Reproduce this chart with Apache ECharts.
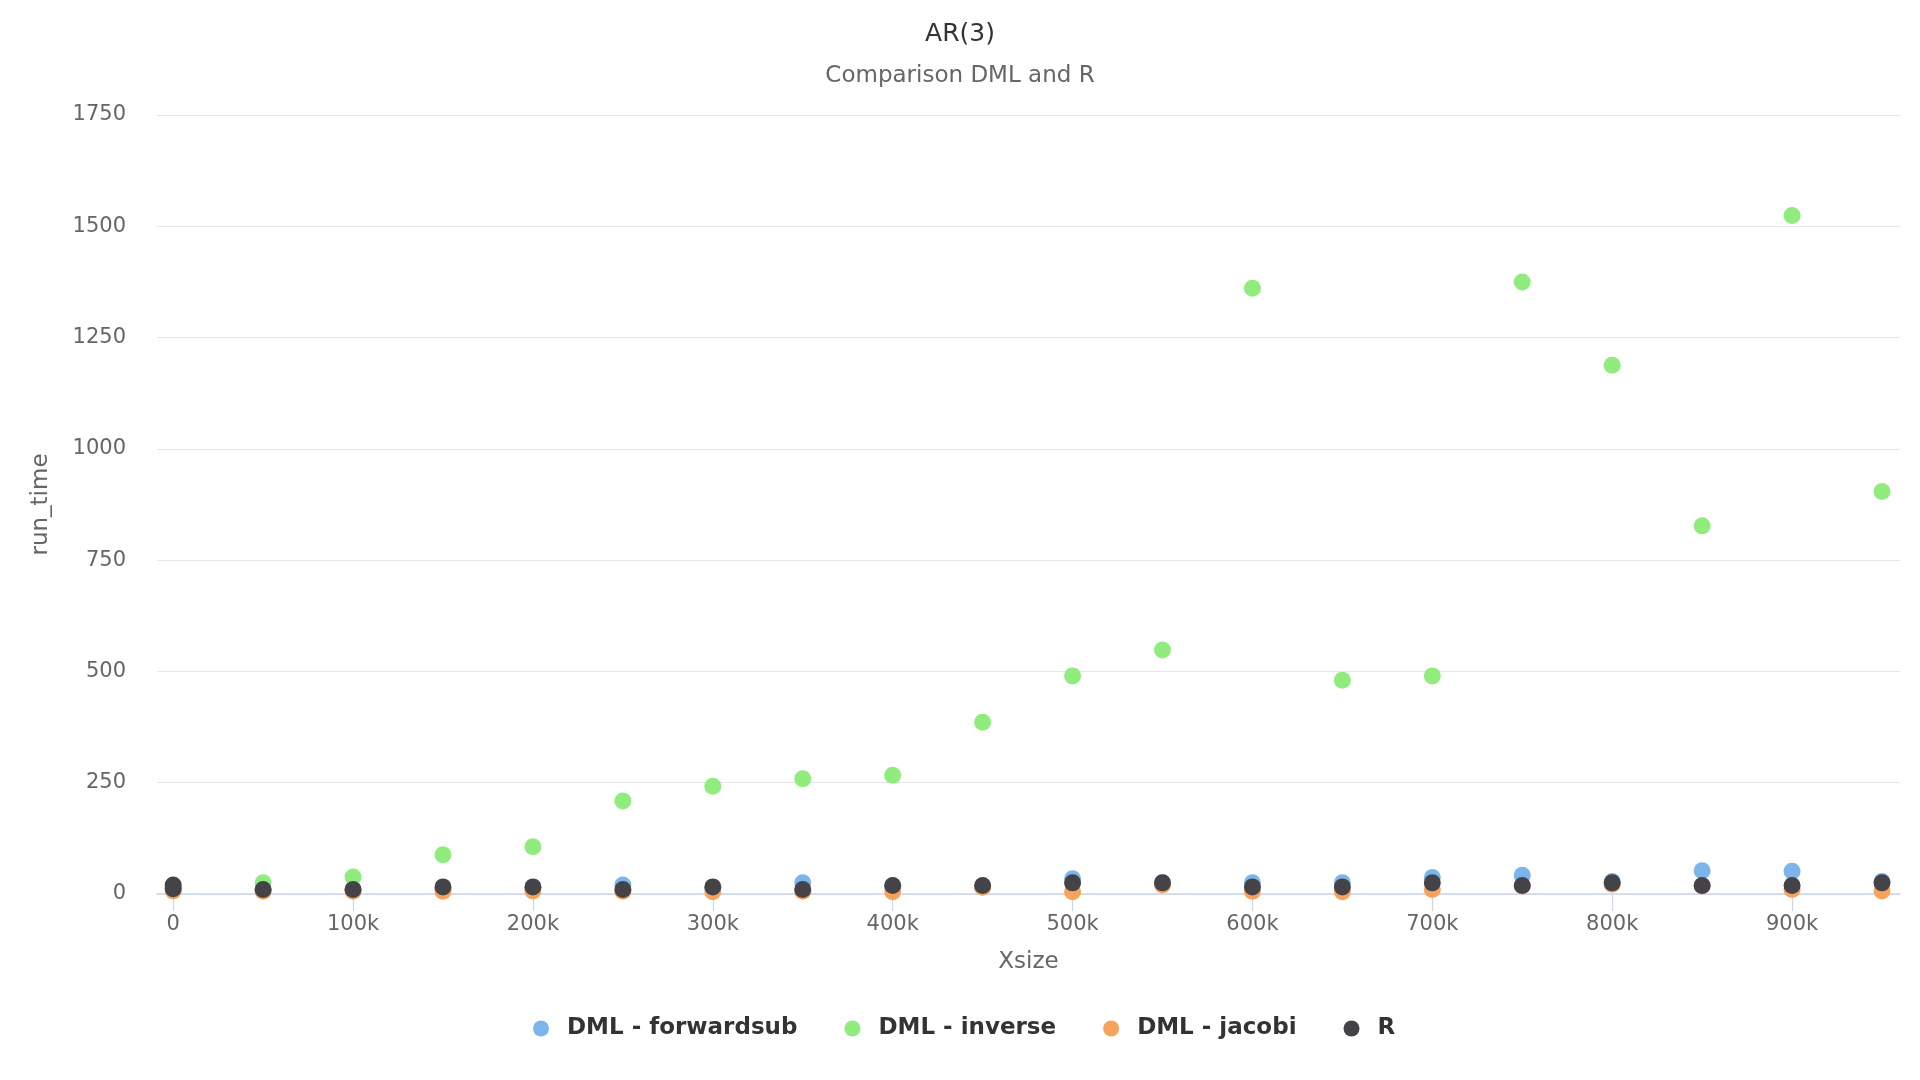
<!DOCTYPE html>
<html>
<head>
<meta charset="utf-8">
<script src="https://cdn.jsdelivr.net/npm/echarts@6/dist/echarts.min.js"></script>
<style>
html,body{margin:0;padding:0;background:#fff;}
#c{width:1920px;height:1080px;}
</style>
</head>
<body>
<div id="c"></div>
<script>
var titleText = 'AR(3)';
var subtitleText = 'Comparison DML and R';
var xName = 'Xsize';
var yName = 'run_time';
var seriesNames = ['DML - forwardsub', 'DML - inverse', 'DML - jacobi', 'R'];
var seriesColors = ['#7cb5ec', '#90ed7d', '#f7a35c', '#434348'];

var xsize = [0, 50000, 100000, 150000, 200000, 250000, 300000, 350000, 400000, 450000,
             500000, 550000, 600000, 650000, 700000, 750000, 800000, 850000, 900000, 950000];
var forwardsub = [15, 10, 10, 12, 14, 20, 14, 25, 17, 16, 34, 25, 25, 25, 37, 42, 28, 52, 51, 28];
var inverse = [12, 25, 38, 88, 106, 209, 242, 259, 267, 386, 490, 548, 1361, 480, 490, 1375, 1188, 827, 1524, 904];
var jacobi = [7, 6, 6, 6, 7, 6, 5, 6, 5, 15, 5, 20, 6, 5, 10, 18, 22, 18, 10, 7];
var rValues = [20, 10, 10, 16, 16, 10, 16, 10, 19, 19, 25, 25, 16, 16, 25, 19, 25, 19, 19, 25];
var rExtraX = [0];
var rExtraY = [12];

var xTicks = [0, 100000, 200000, 300000, 400000, 500000, 600000, 700000, 800000, 900000];
var yTicks = [0, 250, 500, 750, 1000, 1250, 1500, 1750];

function pairs(xs, ys) {
  var out = [];
  for (var i = 0; i < xs.length; i++) out.push([xs[i], ys[i]]);
  return out;
}

var FONT = 'DejaVu Sans';
var chart = echarts.init(document.getElementById('c'));

var seriesData = [
  pairs(xsize, forwardsub),
  pairs(xsize, inverse),
  pairs(xsize, jacobi),
  pairs(rExtraX, rExtraY).concat(pairs(xsize, rValues))
];

var series = seriesNames.map(function (name, i) {
  return {
    name: name,
    type: 'scatter',
    symbol: 'circle',
    symbolSize: 17,
    data: seriesData[i],
    itemStyle: { color: seriesColors[i], opacity: 1 },
    emphasis: { disabled: true },
    z: 2 + i
  };
});

chart.setOption({
  backgroundColor: '#ffffff',
  animation: false,
  textStyle: { fontFamily: FONT },
  title: [
    { text: titleText, left: 'center', top: 14,
      textStyle: { fontFamily: FONT, fontSize: 25, fontWeight: 'normal', color: '#333333', lineHeight: 30 } },
    { text: subtitleText, left: 'center', top: 57,
      textStyle: { fontFamily: FONT, fontSize: 23, fontWeight: 'normal', color: '#666666', lineHeight: 28 } }
  ],
  legend: {
    top: 1012,
    left: 528,
    padding: 5,
    icon: 'circle',
    itemWidth: 16,
    itemHeight: 16,
    itemGap: 47,
    data: seriesNames,
    textStyle: { fontFamily: FONT, fontSize: 23, fontWeight: 'bold', color: '#333333', padding: [0, 0, 0, 13] }
  },
  grid: { left: 157, right: 20, top: 115, bottom: 186, containLabel: false },
  xAxis: {
    type: 'value',
    min: -9000,
    max: 960000,
    name: xName,
    nameLocation: 'middle',
    nameGap: 57,
    nameTextStyle: { fontFamily: FONT, fontSize: 23, color: '#666666' },
    axisLine: { show: true, lineStyle: { color: '#ccd6eb', width: 1.5 } },
    axisTick: { show: true, length: 17, customValues: xTicks, lineStyle: { color: '#ccd6eb', width: 1.2 } },
    axisLabel: {
      customValues: xTicks,
      margin: 20,
      fontFamily: FONT, fontSize: 21, color: '#666666',
      formatter: function (v) { return v === 0 ? '0' : (v / 1000) + 'k'; }
    },
    splitLine: { show: false }
  },
  yAxis: {
    type: 'value',
    min: 0,
    max: 1750,
    interval: 250,
    name: yName,
    nameLocation: 'middle',
    nameGap: 104,
    nameTextStyle: { fontFamily: FONT, fontSize: 23, color: '#666666' },
    axisLine: { show: false },
    axisTick: { show: false },
    axisLabel: { margin: 31, fontFamily: FONT, fontSize: 21, color: '#666666', padding: [3, 0, 0, 0],
      formatter: function (v) { return String(v); } },
    splitLine: { show: true, lineStyle: { color: '#e6e6e6', width: 1.2 } }
  },
  series: series
});
</script>
</body>
</html>
